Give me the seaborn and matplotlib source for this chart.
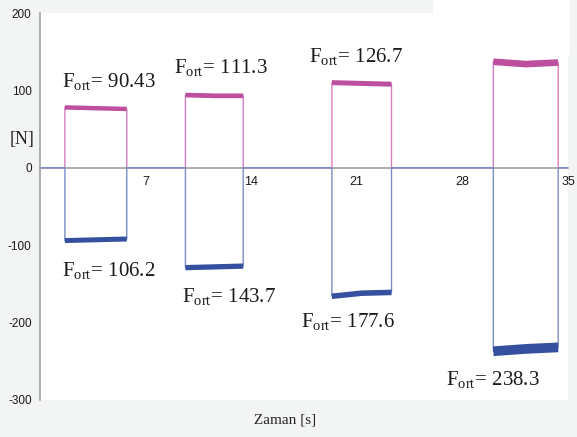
import matplotlib
matplotlib.use("Agg")
import matplotlib.pyplot as plt
import seaborn as sns
import pandas as pd
from matplotlib.ticker import MultipleLocator
from matplotlib.patches import Rectangle

# pulse timing [s]
t_on = [1.65, 9.64, 19.35, 30.05]
t_off = [5.75, 13.47, 23.30, 34.35]
# plateau levels [N]: start, middle, end of each pulse
pos_start = [78, 94, 110, 137]
pos_mid = [77, 93, 109, 134]
pos_end = [76, 93, 108, 136]
neg_start = [-94, -129, -166, -237]
neg_mid = [-93, -128, -162, -234]
neg_end = [-92, -127, -161, -232]
# mean forces written next to each pulse
pos_labels = ["90.43", "111.3", "126.7", "141.7"]
neg_labels = ["106.2", "143.7", "177.6", "238.3"]
t_end = 35

# where the labels sit (data coords)
pos_lab_x = [1.45, 8.9, 17.82, 27.25]
pos_lab_y = [111, 129, 143, 172]
neg_lab_x = [1.45, 9.43, 17.3, 26.93]
neg_lab_y = [-134, -167, -200, -275]
# thickness of the noisy plateau bands (pt)
pos_band_w = [3.2, 3.4, 3.6, 4.8]
neg_band_w = [3.6, 3.8, 4.0, 7.0]


def trace(start, mid, end):
    t, v = [0], [0]
    for a, b, s, m, e in zip(t_on, t_off, start, mid, end):
        t += [a, a, (a + b) / 2, b, b]
        v += [0, s, m, e, 0]
    t.append(t_end)
    v.append(0)
    return pd.DataFrame({"t": t, "F": v})


def plateau(i, start, mid, end):
    a, b = t_on[i], t_off[i]
    return pd.DataFrame({"t": [a, (a + b) / 2, b], "F": [start[i], mid[i], end[i]]})


sns.set_theme(style="white")
plt.rcParams["font.family"] = ["Liberation Sans", "DejaVu Sans"]
plt.rcParams["mathtext.fontset"] = "custom"
plt.rcParams["mathtext.rm"] = "Liberation Serif"
plt.rcParams["axes.unicode_minus"] = False

mag, mag_edge = "#bd4f9e", "#d47fbf"
blu, blu_edge = "#34509f", "#7a8dc8"

fig = plt.figure(figsize=(5.77, 4.37), dpi=100, facecolor="#f3f5f5")
fig.patches.append(Rectangle((433 / 577, 1 - 55 / 437), 137 / 577, 55 / 437,
                             transform=fig.transFigure, facecolor="white",
                             edgecolor="none", zorder=0))
ax = fig.add_axes([40 / 577, 37 / 437, 528 / 577, 387 / 437])
ax.set_facecolor("white")

sns.lineplot(data=trace(pos_start, pos_mid, pos_end), x="t", y="F", sort=False,
             estimator=None, color=mag_edge, lw=1, ax=ax)
sns.lineplot(data=trace(neg_start, neg_mid, neg_end), x="t", y="F", sort=False,
             estimator=None, color=blu_edge, lw=1, ax=ax)
for i in range(len(t_on)):
    sns.lineplot(data=plateau(i, pos_start, pos_mid, pos_end), x="t", y="F", sort=False,
                 estimator=None, color=mag, lw=pos_band_w[i], solid_capstyle="butt", ax=ax)
    sns.lineplot(data=plateau(i, neg_start, neg_mid, neg_end), x="t", y="F", sort=False,
                 estimator=None, color=blu, lw=neg_band_w[i], solid_capstyle="butt", ax=ax)

for x, y, s in zip(pos_lab_x, pos_lab_y, pos_labels):
    ax.text(x, y, r"F$_{\mathrm{ort}}$= " + s, family="Liberation Serif",
            fontsize=15, ha="left", va="center", color="#1a1a1a")
for x, y, s in zip(neg_lab_x, neg_lab_y, neg_labels):
    ax.text(x, y, r"F$_{\mathrm{ort}}$= " + s, family="Liberation Serif",
            fontsize=15, ha="left", va="center", color="#1a1a1a")

ax.set_xlim(0, 35)
ax.set_ylim(-300, 200)
ax.set_xticks([7, 14, 21, 28, 35])
ax.xaxis.set_minor_locator(MultipleLocator(3.5))
ax.yaxis.set_major_locator(MultipleLocator(100))
ax.yaxis.set_minor_locator(MultipleLocator(50))

ax.spines["bottom"].set_position(("data", 0))
for side in ["top", "right"]:
    ax.spines[side].set_visible(False)
for side in ["left", "bottom"]:
    ax.spines[side].set_color("#a0a0a0")
    ax.spines[side].set_linewidth(1.2)
ax.spines["bottom"].set_zorder(0.5)

ax.tick_params(which="major", direction="out", length=4, width=1, color="#a0a0a0",
               labelsize=8.5, labelcolor="#1a1a1a", pad=2)
ax.tick_params(which="minor", direction="out", length=2, width=1, color="#a0a0a0")
ax.tick_params(axis="x", which="major", labelsize=9, pad=2)

ax.set_xlabel("Zaman [s]", family="Liberation Serif", fontsize=11, color="#222222")
ax.xaxis.set_label_coords(0.464, -0.034)
ax.set_ylabel("[N]", family="Liberation Serif", fontsize=13, rotation=0,
              color="#222222", va="center", ha="center")
ax.yaxis.set_label_coords(-0.034, 0.672)

fig.savefig("out.png", dpi=100, facecolor=fig.get_facecolor())
